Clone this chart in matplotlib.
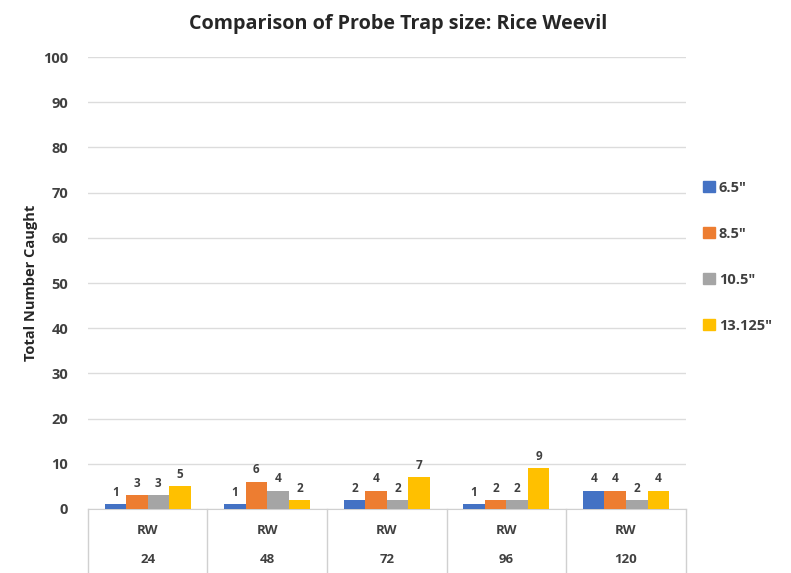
import matplotlib.pyplot as plt
from matplotlib.patches import Patch
from matplotlib import transforms
import numpy as np

plt.rcParams['font.family'] = ['Open Sans', 'DejaVu Sans']

hours = ['24', '48', '72', '96', '120']
insect = 'RW'
sizes = ['6.5"', '8.5"', '10.5"', '13.125"']
caught = {
    '6.5"': [1, 1, 2, 1, 4],
    '8.5"': [3, 6, 4, 2, 4],
    '10.5"': [3, 4, 2, 2, 2],
    '13.125"': [5, 2, 7, 9, 4],
}
colors = ['#4472C4', '#ED7D31', '#A5A5A5', '#FFC000']

fig = plt.figure(figsize=(7.91, 5.73), dpi=100)
ax = fig.add_axes([0.111, 0.1117, 0.756, 0.7888])

x = np.arange(len(hours))
w = 0.18
for i, s in enumerate(sizes):
    pos = x + (i - 1.5) * w
    ax.bar(pos, caught[s], width=w, color=colors[i], zorder=3)
    for p, v in zip(pos, caught[s]):
        ax.text(p, v + 1.2, str(v), ha='center', va='bottom', fontsize=8.5,
                fontweight='bold', color='#404040')

ax.set_xlim(-0.5, len(hours) - 0.5)
ax.set_ylim(0, 100)
ax.set_yticks(range(0, 101, 10))
ax.tick_params(axis='y', length=0, labelsize=10.5, labelcolor='#404040', pad=14)
for lab in ax.get_yticklabels():
    lab.set_fontweight('bold')
ax.set_xticks([])
ax.grid(axis='y', color='#dcdcdc', linewidth=1, zorder=0)
for sp in ['top', 'right', 'left']:
    ax.spines[sp].set_visible(False)
ax.spines['bottom'].set_color('#d0d0d0')

ax.set_ylabel('Total Number Caught', fontsize=10.5, fontweight='bold',
              color='#262626', labelpad=4)

# category table under the axis
trans = transforms.blended_transform_factory(ax.transData, ax.transAxes)
for b in np.arange(len(hours) + 1) - 0.5:
    ax.plot([b, b], [0, -0.15], transform=trans, color='#d0d0d0',
            linewidth=1, clip_on=False)
for xi, h in zip(x, hours):
    ax.text(xi, -0.048, insect, transform=trans, ha='center', va='center',
            fontsize=9.5, fontweight='bold', color='#404040')
    ax.text(xi, -0.112, h, transform=trans, ha='center', va='center',
            fontsize=9.5, fontweight='bold', color='#404040')

fig.suptitle('Comparison of Probe Trap size: Rice Weevil', x=0.503, y=0.975,
             fontsize=14.2, fontweight='bold', color='#262626')

handles = [Patch(color=c) for c in colors]
leg = fig.legend(handles, sizes, loc='center left',
                 bbox_to_anchor=(0.872, 0.552), frameon=False,
                 handlelength=0.8, handleheight=0.8, handletextpad=0.3,
                 labelspacing=2.2, prop={'weight': 'bold', 'size': 10.5})
for t in leg.get_texts():
    t.set_color('#404040')

fig.savefig('out.png', dpi=100)
